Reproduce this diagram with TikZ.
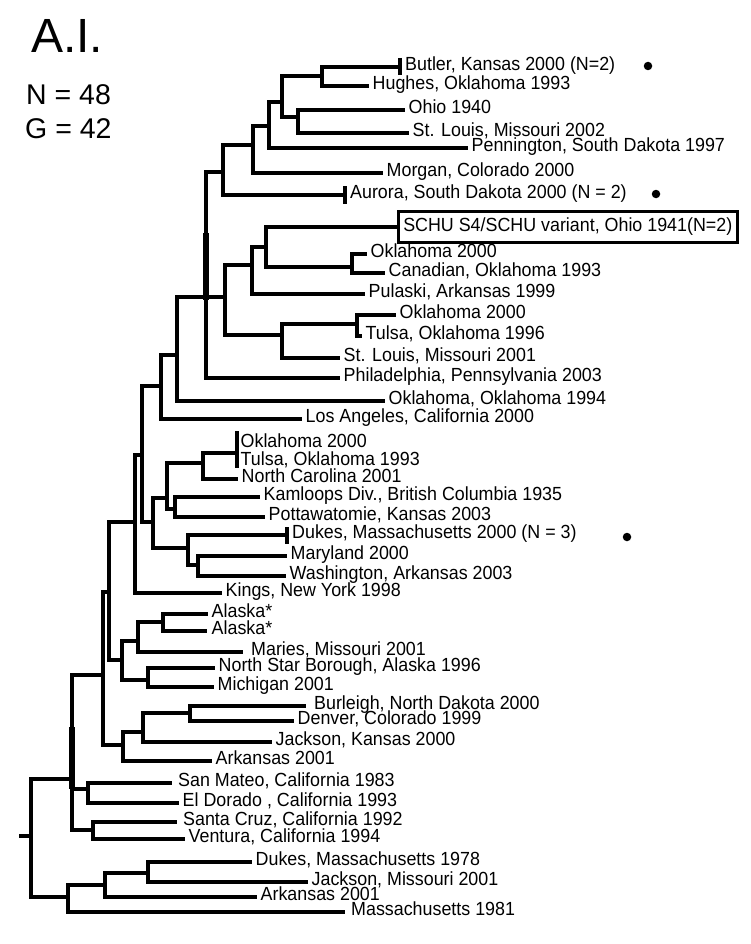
\documentclass[tikz,border=0pt]{standalone}
\usepackage{fontspec}
\setmainfont{Liberation Sans}
\newfontfamily\labfam{Liberation Sans}[FakeStretch=0.94]
\newcommand{\labfont}{\labfam\fontsize{19}{21}\selectfont}
\begin{document}
\begin{tikzpicture}[x=1pt,y=-1pt,
  br/.style={line width=4pt, line cap=butt, line join=miter},
  thickbr/.style={line width=6.5pt, line cap=butt},
  lab/.style={anchor=west, inner xsep=3.5pt, inner ysep=0pt, text height=7pt, text depth=0pt, font=\labfont},
  boxlab/.style={draw, line width=2.5pt, anchor=west, inner xsep=5pt, inner ysep=0pt, minimum height=31pt, text height=13pt, text depth=3.5pt, font=\labfont},
  dot/.style={circle, fill=black, inner sep=0pt, minimum size=8.5pt},
  tickmark/.style={line width=4pt, line cap=butt}]
\useasboundingbox (0,0) rectangle (750,944);
% titles
\node[anchor=base west, inner sep=0pt, font=\fontsize{48}{50}\selectfont] (title) at (31,53) {A.I.};
\node[anchor=base west, inner sep=0pt, font=\fontsize{28.5}{30}\selectfont] (nlab) at (26,105) {N = 48};
\node[anchor=base west, inner sep=0pt, font=\fontsize{28.5}{30}\selectfont] (glab) at (25,139) {G = 42};
% internal nodes (x, stem y)
\coordinate (n1) at (322,76);
\coordinate (n2) at (282,102);
\coordinate (n3) at (298,117);
\coordinate (n4) at (269,126);
\coordinate (n5) at (253,145);
\coordinate (n6) at (223,172);
\coordinate (n7) at (206,297);
\coordinate (n8) at (177,355);
\coordinate (n9) at (225,297);
\coordinate (n10) at (252,265);
\coordinate (n11) at (266,247);
\coordinate (n12) at (352,267);
\coordinate (n13) at (282,335);
\coordinate (n14) at (357,324);
\coordinate (n15) at (161,386);
\coordinate (n16) at (142,455);
\coordinate (n17) at (135,522);
\coordinate (n18) at (153,522);
\coordinate (n19) at (167,498);
\coordinate (n20) at (175,509);
\coordinate (n21) at (203,463);
\coordinate (n22) at (188,548);
\coordinate (n23) at (198,565);
\coordinate (n24) at (109,592);
\coordinate (n25) at (122,660);
\coordinate (n26) at (103,675);
\coordinate (n27) at (138,641);
\coordinate (n28) at (163,622);
\coordinate (n29) at (148,680);
\coordinate (n30) at (123,745);
\coordinate (n32) at (143,732);
\coordinate (n33) at (190,713);
\coordinate (n31) at (72,779);
\coordinate (n34) at (88,789);
\coordinate (n35) at (93,830);
\coordinate (root) at (31,836);
\coordinate (stub) at (19,836);
\coordinate (n36) at (68,897);
\coordinate (n37) at (105,885);
\coordinate (n38) at (148,873);
% tick coordinates
\coordinate (tButler) at (400,67);
\coordinate (tAurora) at (345,195);
\coordinate (tOT) at (237,453);
\coordinate (tDukes) at (287,535);
% leaves
\node[lab, inner xsep=5pt] (lButler) at (tButler) {Butler, Kansas 2000 (N=2)};
\node[lab] (lHughes) at (369,86) {Hughes, Oklahoma 1993};
\node[lab] (lOhio) at (405,110) {Ohio 1940};
\node[lab] (lStL02) at (409,133) {St. Louis, Missouri 2002};
\node[lab] (lPenn) at (468,148) {Pennington, South Dakota 1997};
\node[lab] (lMorgan) at (383,173) {Morgan, Colorado 2000};
\node[lab, inner xsep=5pt] (lAurora) at (tAurora) {Aurora, South Dakota 2000 (N = 2)};
\node[boxlab] (lSCHU) at (397,227) {SCHU S4/SCHU variant, Ohio 1941(N=2)};
\node[lab] (lOk1) at (367,254) {Oklahoma 2000};
\node[lab] (lCan) at (385,273) {Canadian, Oklahoma 1993};
\node[lab] (lPul) at (365,294) {Pulaski, Arkansas 1999};
\node[lab] (lOk2) at (396,315) {Oklahoma 2000};
\node[lab] (lTul96) at (362,336) {Tulsa, Oklahoma 1996};
\node[lab] (lStL01) at (340,358) {St. Louis, Missouri 2001};
\node[lab] (lPhil) at (340,378) {Philadelphia, Pennsylvania 2003};
\node[lab] (lOkOk) at (385,401) {Oklahoma, Oklahoma 1994};
\node[lab] (lLA) at (302,419) {Los Angeles, California 2000};
\node[lab] (lOk3) at (237,443.5) {Oklahoma 2000};
\node[lab] (lTul93) at (237,461.5) {Tulsa, Oklahoma 1993};
\node[lab] (lNC) at (238,479) {North Carolina 2001};
\node[lab] (lKam) at (260,497) {Kamloops Div., British Columbia 1935};
\node[lab] (lPott) at (265,517) {Pottawatomie, Kansas 2003};
\node[lab, inner xsep=5pt] (lDukes00) at (tDukes) {Dukes, Massachusetts 2000 (N = 3)};
\node[lab] (lMd) at (287,556) {Maryland 2000};
\node[lab] (lWash) at (286,576) {Washington, Arkansas 2003};
\node[lab] (lKings) at (222,593) {Kings, New York 1998};
\node[lab] (lAk1) at (208,614) {Alaska*};
\node[lab, inner xsep=4.5pt] (lAk2) at (207,631) {Alaska*};
\node[lab, inner xsep=8pt] (lMaries) at (243,652) {Maries, Missouri 2001};
\node[lab] (lNSB) at (215,668) {North Star Borough, Alaska 1996};
\node[lab] (lMich) at (214,687) {Michigan 2001};
\node[lab, inner xsep=8pt] (lBurl) at (306,706) {Burleigh, North Dakota 2000};
\node[lab] (lDen) at (294,721) {Denver, Colorado 1999};
\node[lab] (lJacKS) at (272,742) {Jackson, Kansas 2000};
\node[lab] (lArk1) at (212,761) {Arkansas 2001};
\node[lab, inner xsep=6pt] (lSM) at (172,783) {San Mateo, California 1983};
\node[lab] (lED) at (179,803) {El Dorado , California 1993};
\node[lab, inner xsep=6pt] (lSC) at (177,822) {Santa Cruz, California 1992};
\node[lab] (lVen) at (185,839) {Ventura, California 1994};
\node[lab] (lDuk78) at (252,862) {Dukes, Massachusetts 1978};
\node[lab] (lJacMO) at (308,882) {Jackson, Missouri 2001};
\node[lab] (lArk2) at (257,897) {Arkansas 2001};
\node[lab, inner xsep=6pt] (lMass) at (345,912) {Massachusetts 1981};
% dots
\node[dot] (d1) at (648,66) {};
\node[dot] (d2) at (656,194) {};
\node[dot] (d3) at (627,537) {};
% ticks
\draw[tickmark] (tButler) ++(0,-9) -- ++(0,17);
\draw[tickmark] (tAurora) ++(0,-9) -- ++(0,18);
\draw[tickmark] (tOT) ++(0,-22) -- ++(0,37);
\draw[tickmark] (tDukes) ++(0,-8) -- ++(0,17);
% overlapping thick segments
\draw[thickbr] (206,233) -- (206,300);
\draw[thickbr] (72,727) -- (72,789);
% branches
\draw[br] (stub) -- (root);
\draw[br] (root) |- (n31);
\draw[br] (root) |- (n36);
\draw[br] (n31) |- (n26);
\draw[br] (n31) |- (n34);
\draw[br] (n31) |- (n35);
\draw[br] (n26) |- (n24);
\draw[br] (n26) |- (n30);
\draw[br] (n24) |- (n17);
\draw[br] (n24) |- (n25);
\draw[br] (n17) |- (n16);
\draw[br] (n17) |- (lKings.west);
\draw[br] (n16) |- (n15);
\draw[br] (n16) |- (n18);
\draw[br] (n15) |- (n8);
\draw[br] (n15) |- (lLA.west);
\draw[br] (n8) |- (n7);
\draw[br] (n8) |- (lOkOk.west);
\draw[br] (n7) |- (n6);
\draw[br] (n7) |- (n9);
\draw[br] (n7) |- (lPhil.west);
\draw[br] (n6) |- (n5);
\draw[br] (n6) |- (tAurora);
\draw[br] (n5) |- (n4);
\draw[br] (n5) |- (lMorgan.west);
\draw[br] (n4) |- (n2);
\draw[br] (n4) |- (lPenn.west);
\draw[br] (n2) |- (n1);
\draw[br] (n2) |- (n3);
\draw[br] (n1) |- (tButler);
\draw[br] (n1) |- (lHughes.west);
\draw[br] (n3) |- (lOhio.west);
\draw[br] (n3) |- (lStL02.west);
\draw[br] (n9) |- (n10);
\draw[br] (n9) |- (n13);
\draw[br] (n10) |- (n11);
\draw[br] (n10) |- (lPul.west);
\draw[br] (n11) |- (lSCHU.west);
\draw[br] (n11) |- (n12);
\draw[br] (n12) |- (lOk1.west);
\draw[br] (n12) |- (lCan.west);
\draw[br] (n13) |- (n14);
\draw[br] (n13) |- (lStL01.west);
\draw[br] (n14) |- (lOk2.west);
\draw[br] (n14) |- (lTul96.west);
\draw[br] (n18) |- (n19);
\draw[br] (n18) |- (n22);
\draw[br] (n19) |- (n21);
\draw[br] (n19) |- (n20);
\draw[br] (n21) |- (tOT);
\draw[br] (n21) |- (lNC.west);
\draw[br] (n20) |- (lKam.west);
\draw[br] (n20) |- (lPott.west);
\draw[br] (n22) |- (tDukes);
\draw[br] (n22) |- (n23);
\draw[br] (n23) |- (lMd.west);
\draw[br] (n23) |- (lWash.west);
\draw[br] (n25) |- (n27);
\draw[br] (n25) |- (n29);
\draw[br] (n27) |- (n28);
\draw[br] (n27) |- (lMaries.west);
\draw[br] (n28) |- (lAk1.west);
\draw[br] (n28) |- (lAk2.west);
\draw[br] (n29) |- (lNSB.west);
\draw[br] (n29) |- (lMich.west);
\draw[br] (n30) |- (n32);
\draw[br] (n30) |- (lArk1.west);
\draw[br] (n32) |- (n33);
\draw[br] (n32) |- (lJacKS.west);
\draw[br] (n33) |- (lBurl.west);
\draw[br] (n33) |- (lDen.west);
\draw[br] (n34) |- (lSM.west);
\draw[br] (n34) |- (lED.west);
\draw[br] (n35) |- (lSC.west);
\draw[br] (n35) |- (lVen.west);
\draw[br] (n36) |- (n37);
\draw[br] (n36) |- (lMass.west);
\draw[br] (n37) |- (n38);
\draw[br] (n37) |- (lArk2.west);
\draw[br] (n38) |- (lDuk78.west);
\draw[br] (n38) |- (lJacMO.west);
\end{tikzpicture}
\end{document}
